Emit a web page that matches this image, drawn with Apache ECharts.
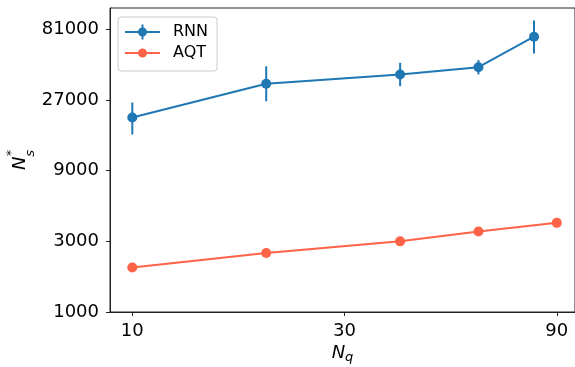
<!DOCTYPE html>
<html><head><meta charset="utf-8">
<script src="https://cdn.jsdelivr.net/npm/echarts@6/dist/echarts.min.js"></script>
<style>html,body{margin:0;padding:0;background:#fff}#c{width:575px;height:367px}</style>
</head><body><div id="c"></div>
<script>
const rnnX = [10, 20, 40, 60, 80];
const rnnY = [20600, 34800, 40200, 45000, 72300];
const rnnLow = [15800, 26500, 33500, 40200, 55700];
const rnnHigh = [26000, 45700, 48200, 50300, 93200];
const aqtX = [10, 20, 40, 60, 90];
const aqtY = [2000, 2500, 3000, 3500, 4000];
const xTicks = [10, 30, 90];
const yTicks = [1000, 3000, 9000, 27000, 81000];

const C1 = '#1f77b4', C2 = '#ff6347';
const FONT = 'DejaVu Sans';
const chart = echarts.init(document.getElementById('c'), null, {renderer: 'canvas'});

const iconRNN = 'path://M0,0 M43,16 M0,7 H35 V9 H0 Z M13,8 A4.5,4.5 0 1,1 22,8 A4.5,4.5 0 1,1 13,8 Z M16.5,0.5 H18.5 V15.5 H16.5 Z';
const iconAQT = 'path://M0,0 M43,16 M0,7 H35 V9 H0 Z M13,8 A4.5,4.5 0 1,1 22,8 A4.5,4.5 0 1,1 13,8 Z';
const fmt = v => String(Math.round(v));

chart.setOption({
  animation: false,
  backgroundColor: '#fff',
  grid: {left: 110, right: 0, top: 8, bottom: 55, outerBoundsMode: 'none', containLabel: false,
         show: true, borderColor: '#222', borderWidth: 1, backgroundColor: 'transparent'},
  legend: {
    orient: 'vertical', left: 118, top: 17,
    padding: [7, 9, 10, 7], itemGap: 5, itemWidth: 43, itemHeight: 16,
    borderColor: '#cccccc', borderWidth: 1, borderRadius: 3, backgroundColor: 'rgba(255,255,255,0.8)',
    textStyle: {fontFamily: FONT, fontSize: 16, color: '#000'},
    data: [{name: 'RNN', icon: iconRNN, itemStyle: {color: C1}}, {name: 'AQT', icon: iconAQT, itemStyle: {color: C2}}]
  },
  xAxis: {
    type: 'log', logBase: 3, min: 8.91, max: 98.9,
    splitLine: {show: false},
    axisLine: {lineStyle: {color: '#222', width: 1}},
    axisTick: {show: true, length: 4, lineStyle: {color: '#222'}, customValues: xTicks},
    axisLabel: {customValues: xTicks, formatter: fmt, fontFamily: FONT, fontSize: 18, color: '#000', margin: 10},
    name: '{n|N}{s|q}', nameLocation: 'middle', nameGap: 29, nameMoveOverlap: false,
    nameTextStyle: {rich: {
      n: {fontFamily: FONT, fontStyle: 'italic', fontSize: 18, color: '#000', lineHeight: 24, verticalAlign: 'middle'},
      s: {fontFamily: FONT, fontStyle: 'italic', fontSize: 13, color: '#000', padding: [10, 0, 0, 0], verticalAlign: 'middle'}
    }}
  },
  yAxis: {
    type: 'log', logBase: 3, min: 1000, max: 113000,
    splitLine: {show: false},
    axisLine: {show: true, lineStyle: {color: '#222', width: 1}},
    axisTick: {show: true, length: 4, lineStyle: {color: '#222'}, customValues: yTicks},
    axisLabel: {customValues: yTicks, formatter: fmt, fontFamily: FONT, fontSize: 18, color: '#000', margin: 11, padding: [2, 0, 0, 0]},
    name: '{n|N}{s|s}', nameLocation: 'middle', nameGap: 73, nameMoveOverlap: false,
    nameTextStyle: {rich: {
      n: {fontFamily: FONT, fontStyle: 'italic', fontSize: 18, color: '#000', lineHeight: 24, verticalAlign: 'middle'},
      s: {fontFamily: FONT, fontStyle: 'italic', fontSize: 13, color: '#000', padding: [20, 0, 0, 0], verticalAlign: 'middle'}
    }}
  },
  graphic: [{
    type: 'text', x: 12, y: 153, rotation: Math.PI / 2,
    style: {text: '*', font: '13px "DejaVu Sans"', fill: '#000', textAlign: 'center', textVerticalAlign: 'middle'}
  }],
  series: [
    {
      name: 'RNN', type: 'custom', z: 2,
      itemStyle: {color: C1},
      data: rnnX.map((x, i) => [x, rnnLow[i], rnnHigh[i]]),
      encode: {x: 0, y: [1, 2]},
      renderItem: (params, api) => {
        const p1 = api.coord([api.value(0), api.value(1)]);
        const p2 = api.coord([api.value(0), api.value(2)]);
        return {type: 'line', shape: {x1: p1[0], y1: p1[1], x2: p2[0], y2: p2[1]}, style: {stroke: C1, lineWidth: 2}};
      }
    },
    {
      name: 'RNN', type: 'line', z: 3,
      data: rnnX.map((x, i) => [x, rnnY[i]]),
      symbol: 'circle', symbolSize: 10,
      itemStyle: {color: C1}, lineStyle: {color: C1, width: 2}
    },
    {
      name: 'AQT', type: 'line', z: 3,
      data: aqtX.map((x, i) => [x, aqtY[i]]),
      symbol: 'circle', symbolSize: 10,
      itemStyle: {color: C2}, lineStyle: {color: C2, width: 2}
    }
  ]
});
</script></body></html>
